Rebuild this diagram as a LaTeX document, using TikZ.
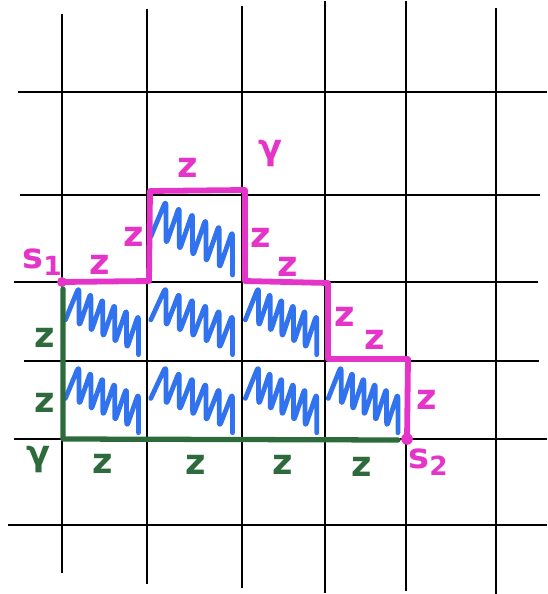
\documentclass[tikz,border=0pt]{standalone}
\usepackage{fontspec}
\setmainfont{DejaVu Sans}
\definecolor{mag}{HTML}{E535C8}
\definecolor{grn}{HTML}{2E6B3C}
\definecolor{blu}{HTML}{3172EE}
\newcommand{\hatchcell}[4]{%
  \draw[scribble] ({#1+0.04*#3},{#2+0.48*#4})
    \foreach \i in {0,...,5} {
      -- ({#1+(0.2+0.14*\i)*#3},{#2+(0.06+0.07*\i)*#4})
      -- ({#1+(0.06+0.14*(\i+1))*#3},{#2+(0.5+0.07*(\i+1))*#4})
    };
}
\begin{document}
\begin{tikzpicture}[x=0.02cm,y=-0.02cm,
  gridline/.style={line width=1.2pt,black},
  magpath/.style={draw=mag,line width=3.3pt,line join=round,line cap=round},
  grnpath/.style={draw=grn,line width=3pt,line join=round,line cap=round},
  scribble/.style={draw=blu,line width=2.7pt,line join=round,line cap=round,rounded corners=3pt},
  maglabel/.style={text=mag,font=\fontsize{20}{22}\selectfont\bfseries,inner sep=0pt},
  grnlabel/.style={text=grn,font=\fontsize{20}{22}\selectfont\bfseries,inner sep=0pt}]
\useasboundingbox (0,0) rectangle (547,594);
% grid
\draw[gridline] (62,14) -- (62,573);
\draw[gridline] (147,9) -- (147,584);
\draw[gridline] (242,6) -- (242,588);
\draw[gridline] (325,1) -- (325,593);
\draw[gridline] (406,1) -- (406,591);
\draw[gridline] (496,8) -- (496,594);
\draw[gridline] (18,92) -- (547,92);
\draw[gridline] (20,195) -- (540,195);
\draw[gridline] (14,282) -- (538,282);
\draw[gridline] (24,361) -- (539,361);
\draw[gridline] (14,439) -- (547,439);
\draw[gridline] (8,525) -- (547,525);
% hatched cells
\hatchcell{147}{195}{95}{87}
\hatchcell{62}{282}{85}{79}
\hatchcell{147}{282}{95}{79}
\hatchcell{242}{282}{83}{79}
\hatchcell{62}{361}{85}{78}
\hatchcell{147}{361}{95}{78}
\hatchcell{242}{361}{83}{78}
\hatchcell{325}{361}{81}{78}
% magenta path
\coordinate (s1) at (62,282);
\coordinate (m1) at (149,281);
\coordinate (m2) at (150,191);
\coordinate (m3) at (245,190);
\coordinate (m4) at (245,281);
\coordinate (m5) at (328,283);
\coordinate (m6) at (328,359);
\coordinate (m7) at (408,359);
\coordinate (s2) at (407,439);
% green path
\coordinate (g0) at (63,289);
\coordinate (g1) at (63,439);
\coordinate (g2) at (398,440);
\draw[grnpath] (g0) -- (g1) -- (g2);
\draw[magpath] (s1) -- (m1) -- (m2) -- (m3) -- (m4) -- (m5) -- (m6) -- (m7) -- (s2);
\fill[mag] (s1) circle (2.8pt);
\fill[mag] (s2) circle (3.3pt);
% magenta labels
\node[maglabel] (ls1) at (42,262) {s\raisebox{-0.35ex}{\fontsize{15}{15}\selectfont 1}};
\node[maglabel] (ls2) at (428,462) {s\raisebox{-0.35ex}{\fontsize{15}{15}\selectfont 2}};
\node[maglabel] (lgam) at (270,154) {γ};
\node[maglabel] (z1) at (100,265) {z};
\node[maglabel] (z2) at (134,237) {z};
\node[maglabel] (z3) at (188,168) {z};
\node[maglabel] (z4) at (261,238) {z};
\node[maglabel] (z5) at (288,267) {z};
\node[maglabel] (z6) at (345,317) {z};
\node[maglabel] (z7) at (375,340) {z};
\node[maglabel] (z8) at (427,400) {z};
% green labels
\node[grnlabel] (gz1) at (45,338) {z};
\node[grnlabel] (gz2) at (45,403) {z};
\node[grnlabel] (ggam) at (38,460) {γ};
\node[grnlabel] (gz3) at (103,464) {z};
\node[grnlabel] (gz4) at (196,465) {z};
\node[grnlabel] (gz5) at (283,465) {z};
\node[grnlabel] (gz6) at (362,467) {z};
\end{tikzpicture}
\end{document}
